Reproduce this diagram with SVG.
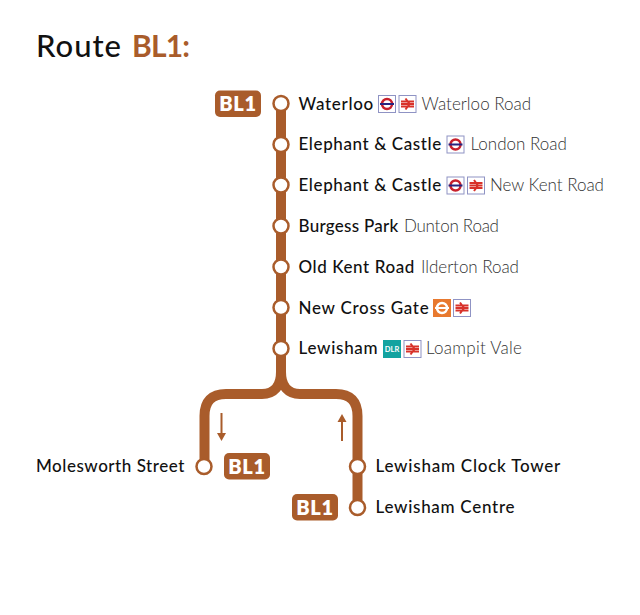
<svg xmlns="http://www.w3.org/2000/svg" width="640" height="615" viewBox="0 0 640 615">
<style>
text{font-family:Lato,"Open Sans",sans-serif}
.t{font-size:17px;font-weight:500;fill:#111;letter-spacing:.72px}
.s{font-size:17px;font-weight:300;fill:#333;letter-spacing:.02px}
.h{font-size:31px;font-weight:500;fill:#111;letter-spacing:1px}
.hb{font-size:30px;font-weight:700;fill:#a95c2b}
.line{fill:none;stroke:#a95c2b;stroke-width:10}
.st{fill:#fff;stroke:#a95c2b;stroke-width:2.5}
.pill{fill:#a95c2b}
.pt{font-size:20px;font-weight:800;fill:#fff;text-anchor:middle;letter-spacing:.6px}
.box{fill:#fff;stroke:#8f93c4;stroke-width:1}
.red{fill:none;stroke:#d8322a;stroke-width:2}
.blue{stroke:#27247f;stroke-width:2}
</style>
<defs>
<g id="ug">
<rect class="box" x=".5" y=".5" width="17" height="17"/>
<circle cx="9" cy="9" r="5" fill="none" stroke="#c8202c" stroke-width="2.500"/>
<path class="blue" d="M2 9H16"/>
</g>
<g id="nr">
<rect class="box" x=".5" y=".5" width="17" height="17"/>
<path class="red" d="M2.500 6.500H15.500M2.500 9H15.500M2.500 11.500H15.500M7 3.500L11 9L7 14.500"/>
</g>
<g id="og">
<rect x="0" y="0" width="18" height="18" fill="#e8792f"/>
<circle cx="9" cy="9" r="5" fill="none" stroke="#fff" stroke-width="2.500"/>
<path d="M2 9H16" stroke="#fff" stroke-width="2"/>
</g>
<g id="dlr">
<rect x="0" y="0" width="18" height="18" fill="#12a3a0"/>
<text x="9" y="12" font-size="7.500" font-weight="700" fill="#fff" text-anchor="middle">DLR</text>
</g>
</defs>
<g id="title">
<text class="h" x="36" y="57">Route</text>
<text class="hb" x="132" y="57" textLength="58">BL1:</text>
</g>
<g id="connectors">
<path class="line" d="M281 103V372C281 386 274 394 262 394H226Q204.500 394 204.500 416V466"/>
<path class="line" d="M281 372C281 386 288 394 300 394H336Q357.500 394 357.500 416V507"/>
<path d="M221.500 413V433" stroke="#a95c2b" stroke-width="2" fill="none"/>
<path d="M217 433H226L221.500 441Z" fill="#a95c2b"/>
<path d="M342 441V422" stroke="#a95c2b" stroke-width="2" fill="none"/>
<path d="M337.500 422H346.500L342 414Z" fill="#a95c2b"/>
</g>
<g id="n-waterloo">
<rect class="pill" x="215" y="90.500" width="46" height="26.500" rx="5"/><text class="pt" x="238" y="111">BL1</text>
<circle class="st" cx="281" cy="103.500" r="7.500"/>
<text class="t" x="298.500" y="109.500" textLength="75.500">Waterloo</text>
<use href="#ug" x="378" y="95"/><use href="#nr" x="398.500" y="95"/>
<text class="s" x="421.500" y="109.500">Waterloo Road</text>
</g>
<g id="n-elephant1">
<circle class="st" cx="281" cy="144.500" r="7.500"/>
<text class="t" x="298.500" y="150" textLength="143.500">Elephant &amp; Castle</text>
<use href="#ug" x="446.500" y="135.500"/>
<text class="s" x="470.500" y="150">London Road</text>
</g>
<g id="n-elephant2">
<circle class="st" cx="281" cy="185" r="7.500"/>
<text class="t" x="298.500" y="191" textLength="143.500">Elephant &amp; Castle</text>
<use href="#ug" x="446.500" y="176.500"/><use href="#nr" x="467" y="176.500"/>
<text class="s" x="490" y="191" textLength="114">New Kent Road</text>
</g>
<g id="n-burgess">
<circle class="st" cx="281" cy="226" r="7.500"/>
<text class="t" x="298.500" y="232" textLength="100.500">Burgess Park</text>
<text class="s" x="404" y="232" textLength="95">Dunton Road</text>
</g>
<g id="n-oldkent">
<circle class="st" cx="281" cy="267" r="7.500"/>
<text class="t" x="298.500" y="272.500" textLength="116.500">Old Kent Road</text>
<text class="s" x="421" y="272.500" textLength="98">Ilderton Road</text>
</g>
<g id="n-newcross">
<circle class="st" cx="281" cy="307.500" r="7.500"/>
<text class="t" x="298.500" y="313.500">New Cross Gate</text>
<use href="#og" x="433" y="299"/><use href="#nr" x="453" y="299"/>
</g>
<g id="n-lewisham">
<circle class="st" cx="281" cy="348.500" r="7.500"/>
<text class="t" x="298.500" y="354">Lewisham</text>
<use href="#dlr" x="383" y="340"/><use href="#nr" x="403.500" y="340"/>
<text class="s" x="426" y="354" textLength="96">Loampit Vale</text>
</g>
<g id="n-molesworth">
<text class="t" x="36" y="472" textLength="149">Molesworth Street</text>
<circle class="st" cx="204" cy="466.500" r="7.500"/>
<rect class="pill" x="224" y="453" width="46" height="26.500" rx="5"/><text class="pt" x="247" y="473.500">BL1</text>
</g>
<g id="n-clocktower">
<circle class="st" cx="357.500" cy="466.500" r="7.500"/>
<text class="t" x="375.500" y="472" textLength="185.500">Lewisham Clock Tower</text>
</g>
<g id="n-centre">
<rect class="pill" x="292" y="494" width="46" height="26.500" rx="5"/><text class="pt" x="315" y="514.500">BL1</text>
<circle class="st" cx="357.500" cy="507.500" r="7.500"/>
<text class="t" x="375.500" y="513">Lewisham Centre</text>
</g>
</svg>
